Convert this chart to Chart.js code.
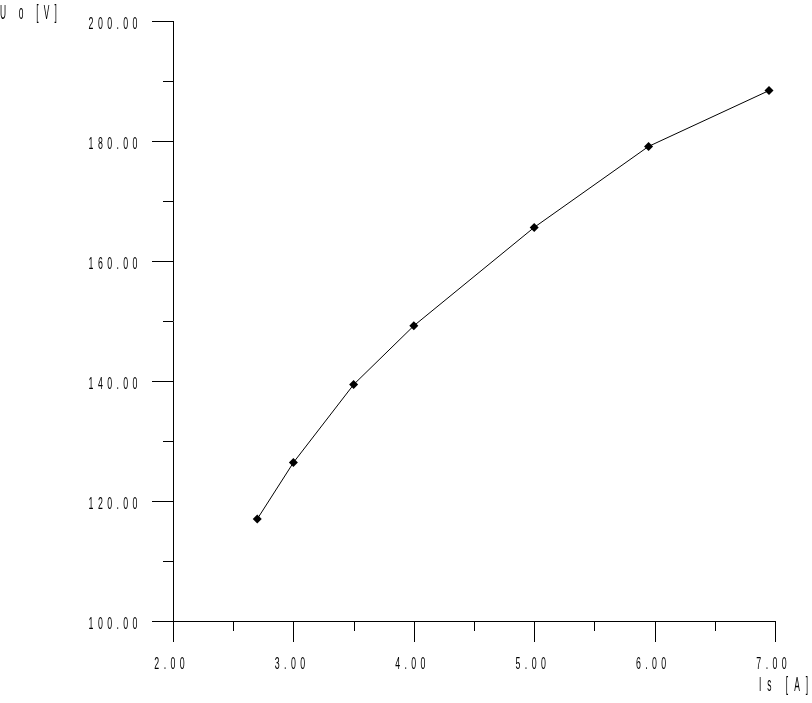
<!DOCTYPE html>
<html><head><meta charset="utf-8">
<script src="https://cdn.jsdelivr.net/npm/chart.js@4"></script>
<style>html,body{margin:0;padding:0;background:#fff}#wrap{width:812px;height:703px}</style>
</head><body><div id="wrap"><canvas id="c" width="812" height="703"></canvas></div>
<script>
const currentIs = [2.70, 3.00, 3.50, 4.00, 5.00, 5.95, 6.95];
const voltageUo = [117.0, 126.4, 139.4, 149.2, 165.6, 179.1, 188.4];
const xTickValues = [2, 3, 4, 5, 6, 7];
const yTickValues = [100, 120, 140, 160, 180, 200];
const xTitle = 'Is [A]';
const yTitle = 'U o [V]';

const FONT = '"Liberation Sans", Arial, sans-serif';

// draw condensed, letter-spaced text; y is vertical middle
function drawSpaced(ctx, text, x, y, align, size, sx, L) {
  ctx.save();
  ctx.font = size + 'px ' + FONT;
  ctx.textBaseline = 'middle';
  ctx.textAlign = 'left';
  ctx.fillStyle = '#000';
  const chars = [...text];
  const adv = chars.map(c => ctx.measureText(c).width);
  const total = (adv.reduce((a, b) => a + b, 0) + L * (chars.length - 1)) * sx;
  let start = x;
  if (align === 'right') start = x - total;
  else if (align === 'center') start = x - total / 2;
  ctx.translate(start, y);
  ctx.scale(sx, 1);
  let cx = 0;
  chars.forEach((c, i) => { ctx.fillText(c, cx, 0); cx += adv[i] + L; });
  ctx.restore();
}

const axisDecor = {
  id: 'axisDecor',
  afterDraw(chart) {
    const ctx = chart.ctx;
    const xs = chart.scales.x, ys = chart.scales.y;
    ctx.save();
    ctx.strokeStyle = '#000';
    ctx.lineWidth = 1;
    ctx.beginPath();
    for (let v = 2; v <= 7.001; v += 0.5) {
      const px = Math.round(xs.getPixelForValue(v)) + 0.5;
      const len = Math.abs(v - Math.round(v)) < 1e-6 ? 21 : 10;
      ctx.moveTo(px, ys.bottom); ctx.lineTo(px, ys.bottom + len);
    }
    for (let v = 100; v <= 200.001; v += 10) {
      const py = Math.round(ys.getPixelForValue(v)) + 0.5;
      const len = (v % 20 === 0) ? 21 : 10;
      ctx.moveTo(xs.left, py); ctx.lineTo(xs.left - len, py);
    }
    ctx.stroke();
    ctx.restore();
    xs.ticks.forEach(t => {
      drawSpaced(ctx, t.value.toFixed(2), xs.getPixelForValue(t.value) - 3.5, 664.5, 'center', 16, 0.55, 8);
    });
    ys.ticks.forEach(t => {
      drawSpaced(ctx, t.value.toFixed(2), 137.5, ys.getPixelForValue(t.value) + 3.5, 'right', 16, 0.55, 8);
    });
    drawSpaced(ctx, yTitle, 0, 13, 'left', 21, 0.4, 13);
    drawSpaced(ctx, xTitle, 759, 685.5, 'left', 21, 0.4, 15);
  }
};

new Chart(document.getElementById('c'), {
  type: 'scatter',
  data: {
    datasets: [{
      data: currentIs.map((x, i) => ({x, y: voltageUo[i]})),
      showLine: true,
      borderColor: '#000',
      backgroundColor: '#000',
      borderWidth: 1,
      pointStyle: 'rectRot',
      pointRadius: 4.5,
      pointBorderWidth: 0,
      tension: 0
    }]
  },
  options: {
    responsive: false,
    animation: false,
    layout: { padding: { top: 21, right: 37, left: 0, bottom: 0 } },
    plugins: { legend: { display: false }, tooltip: { enabled: false } },
    scales: {
      x: {
        type: 'linear', min: 2, max: 7,
        afterBuildTicks: s => { s.ticks = xTickValues.map(v => ({value: v})); },
        afterFit: s => { s.height = 82; s.paddingLeft = 0; s.paddingRight = 0; },
        grid: { display: false, drawTicks: false },
        border: { display: true, color: '#000', width: 1 },
        ticks: { display: false }
      },
      y: {
        type: 'linear', min: 100, max: 200,
        afterBuildTicks: s => { s.ticks = yTickValues.map(v => ({value: v})); },
        afterFit: s => { s.width = 173; s.paddingTop = 0; s.paddingBottom = 0; },
        grid: { display: false, drawTicks: false },
        border: { display: true, color: '#000', width: 1 },
        ticks: { display: false }
      }
    }
  },
  plugins: [axisDecor]
});
</script></body></html>
